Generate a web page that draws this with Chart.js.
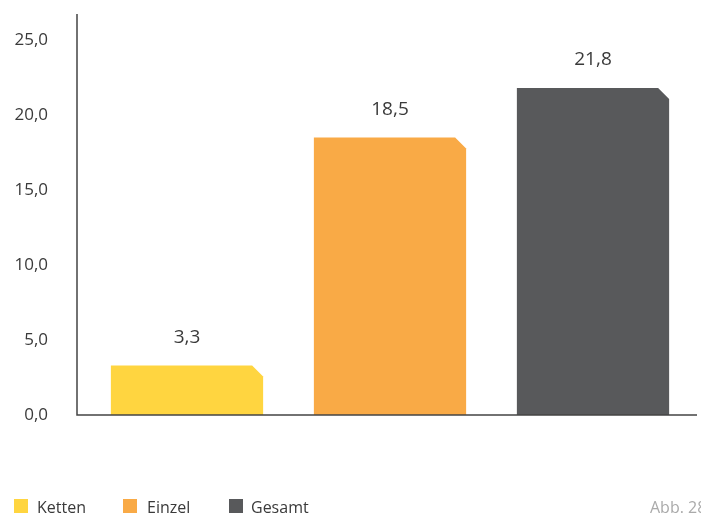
<!DOCTYPE html>
<html lang="de">
<head>
<meta charset="utf-8">
<script src="https://cdn.jsdelivr.net/npm/chart.js@4.4.0/dist/chart.umd.min.js"></script>
<style>
    html, body { margin: 0; padding: 0; background: #fff; }
    #wrap { position: relative; width: 701px; height: 516px; overflow: hidden; font-family: "Open Sans", sans-serif; }
    #chart { position: absolute; left: 0; top: 0; }
    .legende { position: absolute; top: 497px; font-size: 16px; color: #3a3a3a; line-height: 20px; white-space: nowrap; }
    .legende i { position: absolute; top: 2px; width: 14px; height: 14px; }
    .legende span { position: absolute; }
    #abb { position: absolute; left: 650px; top: 497px; font-size: 16px; color: #aaaaaa; line-height: 20px; white-space: nowrap; }
</style>
</head>
<body>
<div id="wrap">
    <canvas id="chart" width="701" height="516"></canvas>
    <div id="legende"></div>
    <div id="abb">Abb. 28</div>
</div>
<script>
const kategorien = ['Ketten', 'Einzel', 'Gesamt'];
const werte = [3.3, 18.5, 21.8];
const farben = ['#ffd540', '#f9aa46', '#58595b'];
const yTicks = [0, 5, 10, 15, 20, 25];

function zahl(v) {
    return v.toLocaleString('de-DE', { minimumFractionDigits: 1, maximumFractionDigits: 1 });
}

// Legende unter dem Diagramm
const legendePos = [[14, 37], [123, 147], [229, 251]];
const legende = document.getElementById('legende');
kategorien.forEach(function (name, i) {
    const el = document.createElement('div');
    el.className = 'legende';
    el.style.left = legendePos[i][0] + 'px';
    el.innerHTML = '<i style="left:0;background:' + farben[i] + '"></i>' +
        '<span style="left:' + (legendePos[i][1] - legendePos[i][0]) + 'px">' + name + '</span>';
    legende.appendChild(el);
});

// Balken mit abgeschrägter Ecke oben rechts
const schraegBalken = {
    id: 'schraegBalken',
    afterDatasetsDraw(chart) {
        const ctx = chart.ctx;
        const meta = chart.getDatasetMeta(0);
        meta.data.forEach(function (bar, i) {
            const l = bar.x - bar.width / 2;
            const r = bar.x + bar.width / 2;
            const c = 11;
            ctx.save();
            ctx.fillStyle = farben[i];
            ctx.beginPath();
            ctx.moveTo(l, bar.base);
            ctx.lineTo(l, bar.y);
            ctx.lineTo(r - c, bar.y);
            ctx.lineTo(r, bar.y + c);
            ctx.lineTo(r, bar.base);
            ctx.closePath();
            ctx.fill();
            ctx.fillStyle = '#3a3a3a';
            ctx.font = '19px "Open Sans"';
            ctx.textAlign = 'center';
            ctx.textBaseline = 'middle';
            ctx.fillText(zahl(werte[i]), bar.x, bar.y - 28);
            ctx.restore();
        });
        // Achsenlinien
        const a = chart.chartArea;
        ctx.save();
        ctx.strokeStyle = '#444';
        ctx.lineWidth = 1.5;
        ctx.beginPath();
        ctx.moveTo(77, a.top);
        ctx.lineTo(77, a.bottom);
        ctx.lineTo(697, a.bottom);
        ctx.stroke();
        ctx.restore();
    }
};

new Chart(document.getElementById('chart'), {
    type: 'bar',
    data: {
        labels: kategorien,
        datasets: [{
            data: werte,
            backgroundColor: 'rgba(0,0,0,0)',
            barPercentage: 0.75,
            categoryPercentage: 1
        }]
    },
    options: {
        responsive: false,
        animation: false,
        layout: { padding: { top: 14, right: 6.5, bottom: 101, left: 0 } },
        plugins: { legend: { display: false }, tooltip: { enabled: false } },
        scales: {
            x: { display: false },
            y: {
                min: 0,
                max: 26.73,
                afterFit(scale) {
                    scale.width = 85.5;
                    scale.paddingTop = 0;
                    scale.paddingBottom = 0;
                },
                afterBuildTicks(scale) { scale.ticks = yTicks.map(v => ({ value: v })); },
                grid: { display: false, drawTicks: false },
                border: { display: false },
                ticks: {
                    padding: 37.5,
                    color: '#3a3a3a',
                    font: { family: 'Open Sans', size: 17 },
                    callback: v => zahl(v)
                }
            }
        }
    },
    plugins: [schraegBalken]
});
</script>
</body>
</html>
